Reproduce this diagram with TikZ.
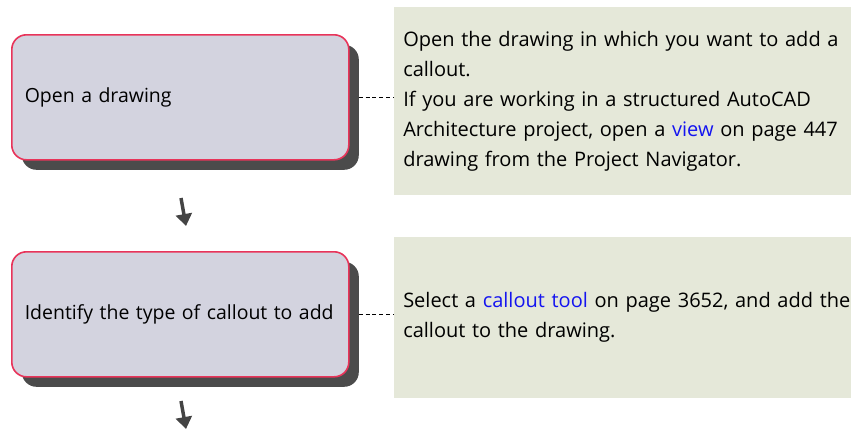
\documentclass[tikz,border=0pt]{standalone}
\usepackage{fontspec}
\setmainfont{Open Sans}
\usetikzlibrary{shadows,arrows.meta}
\definecolor{stepfill}{HTML}{D3D3DF}
\definecolor{stepline}{HTML}{E8345A}
\definecolor{shadowgray}{HTML}{4B4B4B}
\definecolor{notefill}{HTML}{E5E8D9}
\definecolor{linkblue}{HTML}{1414F0}
\definecolor{arrowgray}{HTML}{444444}

\begin{document}
\begin{tikzpicture}[x=0.75pt, y=-0.75pt, >={Triangle[length=9pt,width=12pt]},
    every node/.style={font=\fontsize{15}{22.5}\selectfont},
    stepbox/.style={rectangle, rounded corners=11pt, draw=stepline, line width=1.2pt,
      fill=stepfill, anchor=north west, minimum height=93.75pt, text width=233.25pt,
      inner xsep=9.75pt, align=left, font=\fontsize{14.6}{22.5}\selectfont,
      drop shadow={shadow xshift=7.5pt, shadow yshift=-7.5pt, fill=shadowgray, opacity=1}},
    notebox/.style={rectangle, fill=notefill, anchor=north west, text width=420pt,
      inner xsep=6.75pt, align=left},
    dashline/.style={line width=1pt, dash pattern=on 3pt off 2.2pt, shorten <=6.75pt},
    flowarrow/.style={->, line width=2.6pt, arrowgray}]
    \useasboundingbox (0,0) rectangle (851,429);
    \clip (0,0) rectangle (851,429);

    \node[stepbox] (open) at (11,34) {Open a drawing};
    \node[notebox, minimum height=141pt] (opennote) at (394,7)
      {Open the drawing in which you want to add a\\
       callout.\\
       If you are working in a structured AutoCAD\\
       Architecture project, open a \textcolor{linkblue}{view} on page 447\\
       drawing from the Project Navigator.};
    \draw[dashline] (open.east) -- (open.east -| opennote.west);

    \coordinate (arrowAtop) at (181,198);
    \coordinate (arrowAtip) at (186,226);
    \draw[flowarrow] (arrowAtop) -- (arrowAtip);

    \node[stepbox] (identify) at (11,251) {Identify the type of callout to add};
    \node[notebox, minimum height=120.75pt] (identifynote) at (394,237)
      {Select a \textcolor{linkblue}{callout tool} on page 3652, and add the\\
       callout to the drawing.};
    \draw[dashline] (identify.east) -- (identify.east -| identifynote.west);

    \coordinate (arrowBtop) at (181,401);
    \coordinate (arrowBtip) at (186,429);
    \draw[flowarrow] (arrowBtop) -- (arrowBtip);
\end{tikzpicture}
\end{document}
